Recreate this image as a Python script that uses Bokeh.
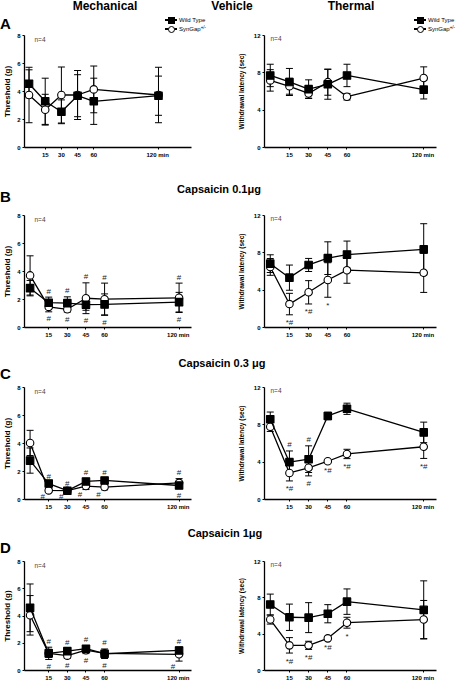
from bokeh.plotting import figure
from bokeh.models import (ColumnDataSource, Whisker, TeeHead, Label, Div, FixedTicker, Range1d)
from bokeh.layouts import column, row
from bokeh.embed import file_html
from bokeh.resources import INLINE
from bokeh.core.properties import value

FONT = "Liberation Sans"

# ---------------- data ----------------
times = [0, 15, 30, 45, 60, 120]
x_ticks = [15, 30, 45, 60, 120]
x_tick_overrides = {120: "120  min"}
mech_yticks = [0, 2, 4, 6, 8]
therm_yticks = [0, 4, 8, 12]
series_names = ["Wild Type", "SynGap"]
sg_superscript = "+/-"

# Vehicle
veh_mech_wt = [4.55, 3.3, 2.55, 3.7, 3.3, 3.7]
veh_mech_wt_sem = [1.0, 1.65, 0.85, 1.5, 1.65, 1.4]
veh_mech_sg = [3.75, 2.7, 3.75, 3.75, 4.15, 3.75]
veh_mech_sg_sem = [1.98, 1.1, 2.0, 1.75, 1.67, 1.98]

veh_therm_wt = [7.72, 7.02, 6.25, 6.77, 7.72, 6.2]
veh_therm_wt_sem = [1.2, 1.45, 1.0, 1.6, 1.2, 1.0]
veh_therm_sg = [7.19, 6.56, 5.79, 7.0, 5.44, 7.44]
veh_therm_sg_sem = [1.15, 0.85, 0.5, 1.4, 0.35, 1.2]

# Capsaicin 0.1 ug
c01_mech_wt = [2.81, 1.77, 1.74, 1.63, 1.65, 1.81]
c01_mech_wt_sem = [0.55, 0.4, 0.45, 0.4, 0.75, 0.7]
c01_mech_sg = [3.72, 1.47, 1.3, 2.09, 2.02, 2.12]
c01_mech_sg_sem = [1.4, 0.35, 0.2, 1.1, 1.15, 1.05]

c01_therm_wt = [6.84, 5.34, 6.7, 7.43, 7.81, 8.37]
c01_therm_wt_sem = [0.95, 1.35, 0.7, 1.75, 1.45, 2.75]
c01_therm_sg = [6.49, 2.51, 3.77, 5.09, 6.14, 5.86]
c01_therm_sg_sem = [0.9, 1.15, 1.25, 1.85, 1.4, 2.1]

# Capsaicin 0.3 ug
c03_mech_wt = [2.78, 1.14, 0.63, 1.29, 1.36, 1.0]
c03_mech_wt_sem = [0.9, 0.1, 0.08, 0.2, 0.15, 0.2]
c03_mech_sg = [4.04, 0.65, 0.63, 0.96, 0.89, 1.19]
c03_mech_sg_sem = [0.9, 0.08, 0.08, 0.25, 0.2, 0.3]

c03_therm_wt = [8.6, 4.0, 4.32, 8.95, 9.72, 7.19]
c03_therm_wt_sem = [0.77, 1.2, 1.43, 0.4, 0.6, 1.1]
c03_therm_sg = [7.79, 2.84, 3.4, 4.1, 4.88, 5.65]
c03_therm_sg_sem = [0.5, 0.85, 0.87, 0.1, 0.5, 1.25]

# Capsaicin 1 ug
c1_mech_wt = [4.6, 1.26, 1.42, 1.6, 1.23, 1.47]
c1_mech_wt_sem = [1.75, 0.45, 0.2, 0.2, 0.35, 0.25]
c1_mech_sg = [4.05, 1.26, 1.09, 1.49, 1.26, 1.19]
c1_mech_sg_sem = [1.45, 0.3, 0.2, 0.25, 0.2, 0.5]

c1_therm_wt = [7.26, 5.86, 5.82, 6.25, 7.58, 6.67]
c1_therm_wt_sem = [1.15, 1.45, 1.65, 1.0, 1.4, 3.2]
c1_therm_sg = [5.61, 2.77, 2.77, 3.54, 5.26, 5.61]
c1_therm_sg_sem = [0.5, 0.85, 0.45, 0.15, 0.6, 2.1]

# significance marks: (time, text, side)
c01_mech_marks = [(15, "#", "above"), (30, "#", "above"), (45, "#", "above"), (60, "#", "above"),
                  (120, "#", "above"), (15, "#", "below"), (30, "#", "below"), (45, "#", "below"),
                  (60, "#", "below"), (120, "#", "below")]
c01_therm_marks = [(15, "*#", "below"), (30, "*#", "below"), (45, "*", "below")]
c03_mech_marks = [(15, "#", "above"), (30, "#", "above"), (45, "#", "above"), (60, "#", "above"),
                  (120, "#", "above"), (15, "#", "left"), (30, "#", "left"), (45, "#", "left"),
                  (60, "#", "left"), (120, "#", "below")]
c03_therm_marks = [(15, "#", "above"), (30, "#", "above"), (15, "*#", "below"), (30, "#", "below"),
                   (45, "*#", "below"), (60, "*#", "below"), (120, "*#", "below")]
c1_mech_marks = [(15, "#", "above"), (30, "#", "above"), (45, "#", "above"), (60, "#", "above"),
                 (120, "#", "above"), (15, "#", "below"), (30, "#", "below"), (45, "#", "below"),
                 (60, "#", "below"), (120, "#", "left")]
c1_therm_marks = [(15, "*#", "below"), (30, "*#", "below"), (45, "*#", "below"), (60, "*", "below")]


def style_axis(ax):
    ax.axis_line_width = 1.3
    ax.axis_line_color = "black"
    ax.major_tick_line_width = 1
    ax.major_tick_line_color = "black"
    ax.major_tick_in = 0
    ax.major_tick_out = 2
    ax.minor_tick_line_color = None
    ax.major_label_text_font = FONT
    ax.major_label_text_font_size = "6px"
    ax.major_label_text_font_style = "bold"
    ax.major_label_text_color = "black"
    ax.major_label_standoff = 2


def make_panel(kind, wt, wt_sem, sg, sg_sem, marks, xr, top, bottom):
    mech = kind == "mech"
    ymax = 8 if mech else 12
    ml, mr = (19, 37) if mech else (36, 20)
    frame_h = 112
    p = figure(width=228, height=top + frame_h + bottom,
               x_range=Range1d(xr[0], xr[1]), y_range=Range1d(0, ymax),
               output_backend="svg", toolbar_location=None,
               min_border_left=ml, min_border_right=mr,
               min_border_top=top, min_border_bottom=bottom)
    p.outline_line_color = None
    p.xgrid.visible = False
    p.ygrid.visible = False
    p.background_fill_color = "white"
    p.border_fill_color = "white"

    xa = p.xaxis[0]
    ya = p.yaxis[0]
    style_axis(xa)
    style_axis(ya)
    xa.ticker = FixedTicker(ticks=x_ticks)
    xa.major_label_overrides = x_tick_overrides
    ya.ticker = FixedTicker(ticks=mech_yticks if mech else therm_yticks)
    ya.axis_label = "Threshold (g)" if mech else "Withdrawal latency (sec)"
    ya.axis_label_text_font = FONT
    ya.axis_label_text_font_style = "bold"
    ya.axis_label_text_font_size = "8px" if mech else "6.5px"
    ya.axis_label_standoff = 2 if mech else 6
    ya.axis_label_text_color = "black"

    for mean, sem, marker, fill in ((sg, sg_sem, "circle", "white"), (wt, wt_sem, "square", "black")):
        src = ColumnDataSource(dict(
            x=times, y=mean,
            upper=[m + s for m, s in zip(mean, sem)],
            lower=[m - s for m, s in zip(mean, sem)]))
        wh = Whisker(source=src, base="x", upper="upper", lower="lower",
                     line_color="black", line_width=1,
                     upper_head=TeeHead(size=7, line_width=1, line_color="black"),
                     lower_head=TeeHead(size=7, line_width=1, line_color="black"))
        p.add_layout(wh)
        p.line("x", "y", source=src, line_color="black", line_width=1.3)
        p.scatter("x", "y", source=src, marker=marker, size=7.5,
                  fill_color=fill, line_color="black", line_width=1.1)

    # n=4 label (inside the frame)
    p.add_layout(Label(x=xr[0], y=ymax, x_offset=10 if mech else 6, y_offset=-3.5 if mech else -2.5,
                       text="n=4", text_font=FONT, text_font_size="6.5px", text_color="#444444",
                       text_baseline="middle", text_align="left"))

    if marks:
        mx, my, mt, dx, dy = [], [], [], [], []
        below_off = 7 if mech else 8
        for t, s, side in marks:
            i = times.index(t)
            hi = max(wt[i] + wt_sem[i], sg[i] + sg_sem[i])
            lo = min(wt[i] - wt_sem[i], sg[i] - sg_sem[i])
            if side == "above":
                y, ox, oy = hi, 0, -6
            elif side == "below":
                y, ox, oy = lo, 0, below_off
            else:
                y, ox, oy = lo, -6, 5
            mx.append(t); my.append(y); mt.append(s); dx.append(ox); dy.append(oy)
        msrc = ColumnDataSource(dict(x=mx, y=my, text=mt, dx=dx, dy=dy))
        p.text("x", "y", text="text", source=msrc, x_offset="dx", y_offset="dy",
               text_font=value(FONT), text_font_size=value("8px"), text_color="#222222",
               text_align="center", text_baseline="middle")
    return p


def title_div(height, letter, letter_top, title, title_cx, title_top):
    html = ('<div style="position:relative;width:456px;height:%dpx;'
            'font-family:\'Liberation Sans\',Arial,sans-serif;color:black;">'
            '<span style="position:absolute;left:0px;top:%dpx;font-size:15px;font-weight:bold;'
            'line-height:15px;">%s</span>'
            '<span style="position:absolute;left:%dpx;top:%dpx;transform:translateX(-50%%);'
            'font-size:11px;font-weight:bold;line-height:12px;white-space:nowrap;">%s</span></div>'
            % (height, letter_top, letter, title_cx, title_top, title))
    return Div(text=html, width=456, height=height, margin=0)


def legend_html(left, top):
    wt_glyph = ('<span style="position:relative;display:inline-block;width:12px;height:8px;">'
                '<span style="position:absolute;left:0px;top:3.4px;width:12px;height:1.2px;background:black;"></span>'
                '<span style="position:absolute;left:2.5px;top:0.5px;width:7px;height:7px;background:black;"></span>'
                '</span>')
    sg_glyph = ('<span style="position:relative;display:inline-block;width:12px;height:8px;">'
                '<span style="position:absolute;left:0px;top:3.4px;width:12px;height:1.2px;background:black;"></span>'
                '<span style="position:absolute;left:2.5px;top:0.5px;width:7px;height:7px;box-sizing:border-box;'
                'border:1.1px solid black;border-radius:50%;background:white;"></span>'
                '</span>')
    item = ('<div style="position:absolute;left:%gpx;top:%gpx;height:8px;display:flex;align-items:center;'
            'white-space:nowrap;font-size:6px;font-weight:normal;line-height:8px;">%s'
            '<span style="margin-left:2px;">%s</span></div>')
    sg_label = '%s<sup style="font-size:4.5px;line-height:0;vertical-align:2px;">%s</sup>' % (series_names[1], sg_superscript)
    return (item % (left, top, wt_glyph, series_names[0]) +
            item % (left, top + 9, sg_glyph, sg_label))


header_html = ('<div style="position:relative;width:456px;height:33px;'
               'font-family:\'Liberation Sans\',Arial,sans-serif;color:black;">'
               '<div style="font-size:12px;font-weight:bold;line-height:12px;">'
               '<span style="position:absolute;left:105px;top:0px;transform:translateX(-50%);white-space:nowrap;">Mechanical</span>'
               '<span style="position:absolute;left:232px;top:0px;transform:translateX(-50%);white-space:nowrap;">Vehicle</span>'
               '<span style="position:absolute;left:351px;top:0px;transform:translateX(-50%);white-space:nowrap;">Thermal</span>'
               '</div>'
               '<span style="position:absolute;left:0px;top:16px;font-size:15px;font-weight:bold;line-height:15px;">A</span>'
               + legend_html(165, 16) + legend_html(414, 16) +
               '</div>')
header = Div(text=header_html, width=456, height=33, margin=0)

xr_std = (-4.5, 130)
xr_a_mech = (-4.2, 150.6)

pA_l = make_panel("mech", veh_mech_wt, veh_mech_wt_sem, veh_mech_sg, veh_mech_sg_sem, None,
                  xr_a_mech, 2, 20)
pA_r = make_panel("therm", veh_therm_wt, veh_therm_wt_sem, veh_therm_sg, veh_therm_sg_sem, None,
                  xr_std, 2, 20)

divB = title_div(42, "B", 22, "Capsaicin 0.1&mu;g", 219, 16)
pB_l = make_panel("mech", c01_mech_wt, c01_mech_wt_sem, c01_mech_sg, c01_mech_sg_sem, c01_mech_marks,
                  xr_std, 6, 18)
pB_r = make_panel("therm", c01_therm_wt, c01_therm_wt_sem, c01_therm_sg, c01_therm_sg_sem, c01_therm_marks,
                  xr_std, 6, 18)

divC = title_div(36, "C", 21, "Capsaicin 0.3 &mu;g", 222, 12)
pC_l = make_panel("mech", c03_mech_wt, c03_mech_wt_sem, c03_mech_sg, c03_mech_sg_sem, c03_mech_marks,
                  xr_std, 6, 18)
pC_r = make_panel("therm", c03_therm_wt, c03_therm_wt_sem, c03_therm_sg, c03_therm_sg_sem, c03_therm_marks,
                  xr_std, 6, 18)

divD = title_div(38, "D", 23, "Capsaicin 1&mu;g", 225, 10)
pD_l = make_panel("mech", c1_mech_wt, c1_mech_wt_sem, c1_mech_sg, c1_mech_sg_sem, c1_mech_marks,
                  xr_std, 6, 10)
pD_r = make_panel("therm", c1_therm_wt, c1_therm_wt_sem, c1_therm_sg, c1_therm_sg_sem, c1_therm_marks,
                  xr_std, 6, 10)

p = column(header,
           row(pA_l, pA_r, spacing=0),
           divB,
           row(pB_l, pB_r, spacing=0),
           divC,
           row(pC_l, pC_r, spacing=0),
           divD,
           row(pD_l, pD_r, spacing=0),
           spacing=0)

open("out.html", "w", encoding="utf-8").write(file_html(p, INLINE))
